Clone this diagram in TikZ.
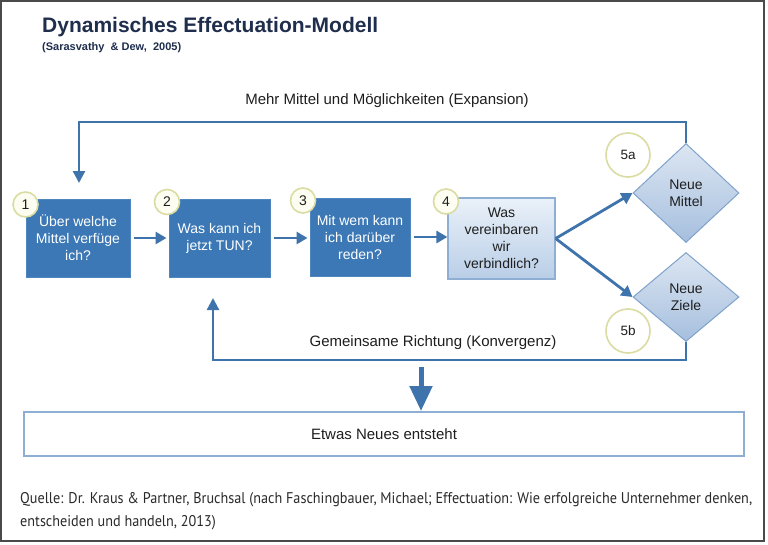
\documentclass[tikz,border=0pt]{standalone}
\usepackage{fontspec}
\setmainfont{Liberation Sans}
\newfontfamily\qfont{PT Sans}
\usetikzlibrary{shapes.geometric,arrows.meta}
\definecolor{boxblue}{HTML}{3B78B5}
\definecolor{boxedge}{HTML}{4F86BE}
\definecolor{lineblue}{HTML}{3E74AB}
\definecolor{lightedge}{HTML}{8EAFD3}
\definecolor{ringedge}{HTML}{DADCA2}
\definecolor{ringfill}{HTML}{FDFDF1}
\definecolor{titlecol}{HTML}{1F2E4D}
\definecolor{txt}{HTML}{1E1E1E}
\definecolor{srctxt}{HTML}{2A2A2A}
\definecolor{framecol}{HTML}{4A4A4A}
\definecolor{b4top}{HTML}{EAF1F9}
\definecolor{b4bot}{HTML}{B9CEE7}
\definecolor{ditop}{HTML}{DCE6F2}
\definecolor{dibot}{HTML}{A6BFDE}
\definecolor{diedge}{HTML}{7FA2CB}
\newsavebox\qbox
\begin{document}
\sbox\qbox{\qfont\fontsize{15.5}{23}\selectfont Quelle: Dr. Kraus \& Partner, Bruchsal (nach Faschingbauer, Michael; Effectuation: Wie erfolgreiche Unternehmer denken,}%
\pgfmathsetmacro\qfx{732/\the\wd\qbox}%
\begin{tikzpicture}[x=1pt,y=-1pt,
  every node/.style={inner sep=0pt, text=txt, font=\fontsize{14}{17}\selectfont},
  lbl/.style={font=\fontsize{15}{18}\selectfont},
  bluebox/.style={rectangle, fill=boxblue, draw=boxedge, line width=1pt, text=white, align=center},
  lightbox/.style={rectangle, top color=b4top, bottom color=b4bot, draw=lightedge, line width=1.2pt, align=center},
  dia/.style={diamond, top color=ditop, bottom color=dibot, draw=diedge, line width=1pt, align=center, minimum width=106pt},
  ring/.style={circle, fill=ringfill, draw=ringedge, line width=1.6pt, minimum size=25pt, font=\fontsize{14}{15}\selectfont},
  bigring/.style={circle, fill=white, draw=ringedge, line width=1.6pt, minimum size=44pt, font=\fontsize{13.5}{15}\selectfont},
  conn/.style={draw=lineblue, line width=2.8pt, -{Triangle[length=11pt,width=12pt]}},
  loopline/.style={draw=lineblue, line width=2.4pt, -{Triangle[length=12pt,width=12pt]}},
]
\useasboundingbox (0,0) rectangle (768,544);
\fill[white] (0,0) rectangle (768,544);
\draw[framecol, line width=1.5pt] (1,1) rectangle (764,541);

% title
\node[anchor=base west, text=titlecol, font=\fontsize{21}{24}\selectfont\bfseries] (title) at (42,32) {Dynamisches Effectuation-Modell};
\node[anchor=base west, text=titlecol, font=\fontsize{11}{13}\selectfont\bfseries] (sub) at (42,50) {(Sarasvathy\ \ \& Dew,\ \ 2005)};

% boxes
\node[bluebox, minimum width=104pt, minimum height=78pt] (b1) at (78,238) {Über welche\\Mittel verfüge\\ich?};
\node[bluebox, minimum width=101pt, minimum height=78pt] (b2) at (219.5,238) {Was kann ich\\jetzt TUN?};
\node[bluebox, minimum width=100pt, minimum height=78pt] (b3) at (360,237) {Mit wem kann\\ich darüber\\reden?};
\node[lightbox, minimum width=107pt, minimum height=81pt] (b4) at (501.5,238.5) {Was\\vereinbaren\\wir\\verbindlich?};

% diamonds
\node[dia, minimum height=99pt] (d1) at (686,193) {Neue\\Mittel};
\node[dia, minimum height=89pt] (d2) at (686,297) {Neue\\Ziele};

% number rings
\node[ring] (c1) at (25.5,204.5) {1};
\node[ring] (c2) at (167,202) {2};
\node[ring] (c3) at (303,200.5) {3};
\node[ring] (c4) at (446,201.5) {4};
\node[bigring] (c5a) at (628,155) {5a};
\node[bigring] (c5b) at (628,331) {5b};

% connectors
\draw[conn, shorten <=3pt, shorten >=2pt] (b1.east) -- (b2.west);
\draw[conn, shorten <=3pt, shorten >=2pt] (b2.east) -- (b2.east -| b3.west);
\draw[conn, shorten <=3pt, shorten >=0pt] (b3.east) -- (b3.east -| b4.west);
\draw[conn] (b4.east) -- (d1.west);
\draw[conn] (b4.east) -- (d2.west);

% loops
\coordinate (tl) at (79,122);
\coordinate (tt) at (79,183);
\draw[loopline] (d1.north) |- (tl) -- (tt);
\node[lbl] (lexp) at (387,101) {Mehr Mittel und Möglichkeiten (Expansion)};

\coordinate (bl) at (213,360);
\coordinate (bt) at (213,298);
\draw[loopline] (d2.south) |- (bl) -- (bt);
\node[lbl] (lkon) at (433,343) {Gemeinsame Richtung (Konvergenz)};

% result
\node[rectangle, draw=lightedge, line width=2pt, fill=white, minimum width=720pt, minimum height=44pt, lbl] (neu) at (384,434) {Etwas Neues entsteht};
\coordinate (ba) at (421,367);
\draw[draw=lineblue, line width=5pt, -{Triangle[length=25pt,width=22pt]}] (ba) -- (ba |- neu.north);

% source
\node[anchor=base west, align=left, font=\qfont\fontsize{15.5}{23}\selectfont, text=srctxt] (src) at (20,526) {\scalebox{\qfx}[1]{Quelle: Dr. Kraus \& Partner, Bruchsal (nach Faschingbauer, Michael; Effectuation: Wie erfolgreiche Unternehmer denken,}\\\scalebox{\qfx}[1]{entscheiden und handeln, 2013)}};
\end{tikzpicture}
\end{document}
